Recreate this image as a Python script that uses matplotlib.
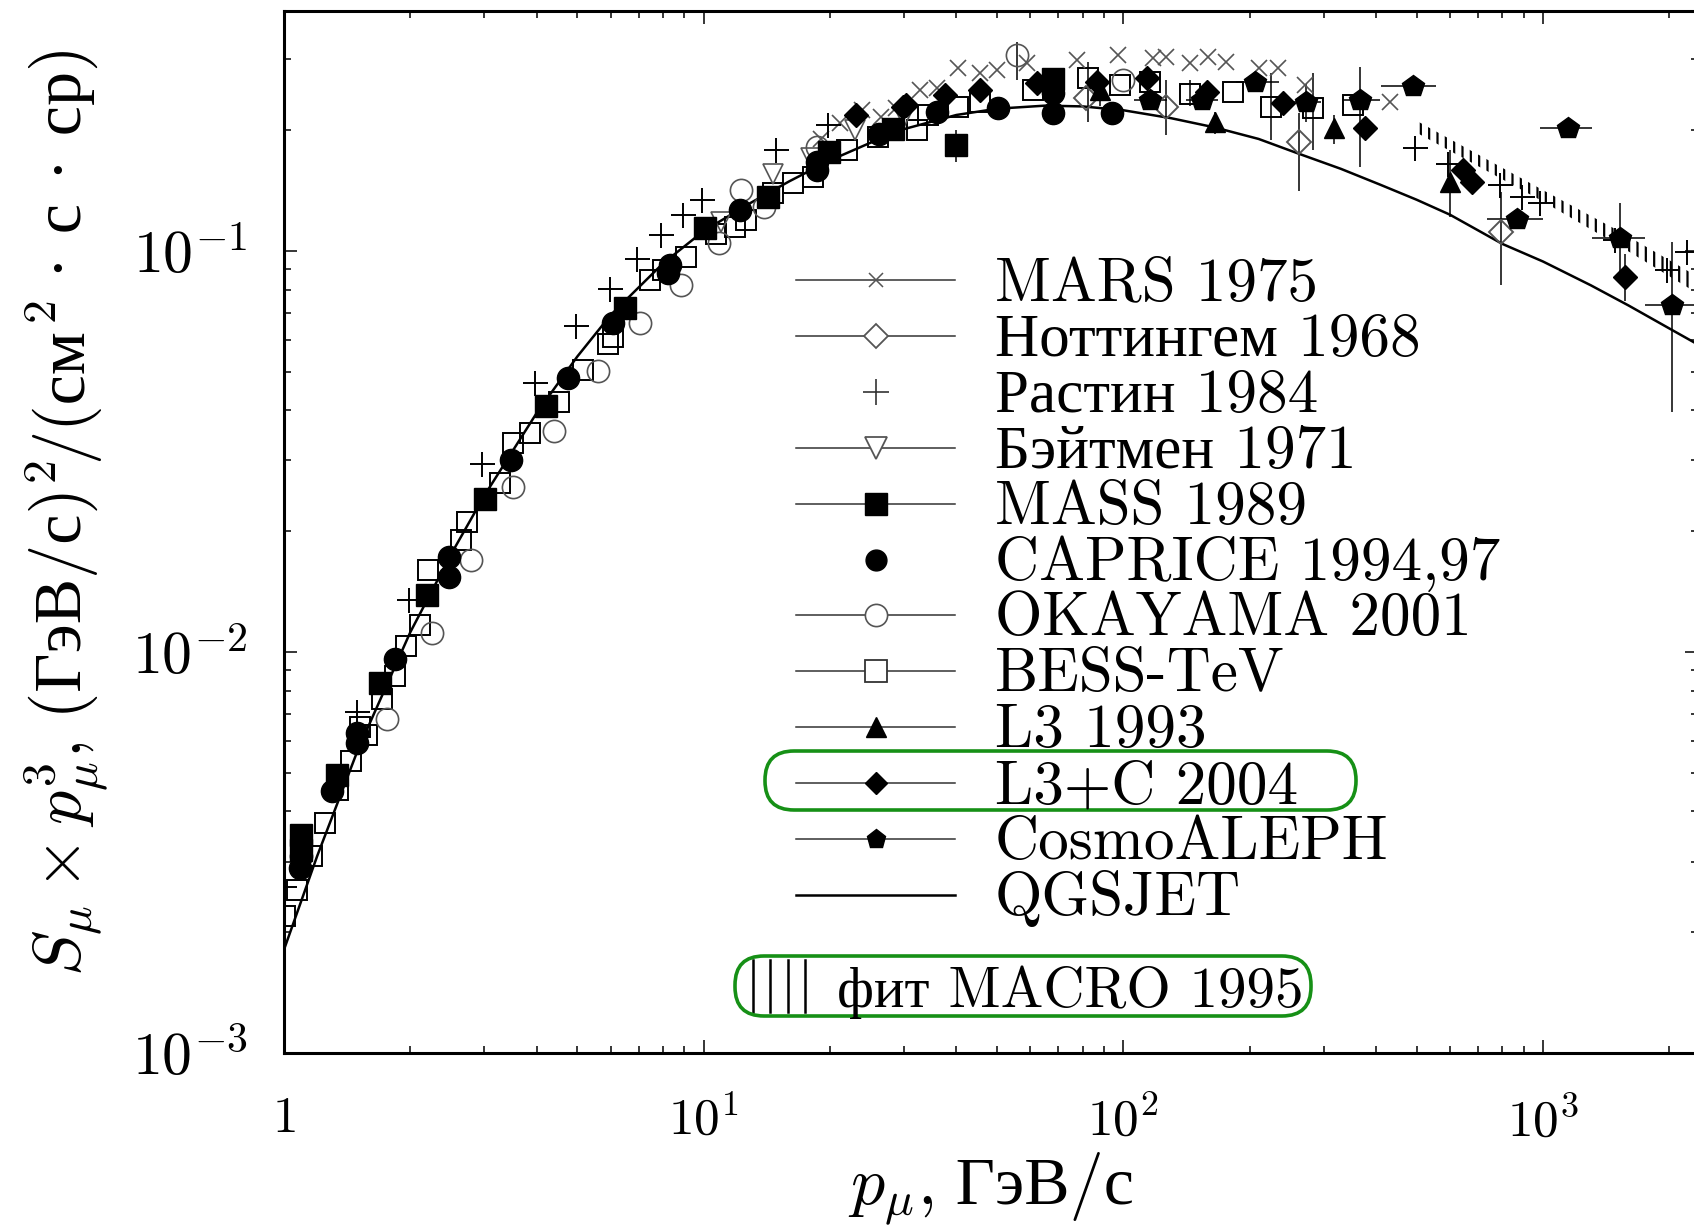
import numpy as np
import matplotlib
matplotlib.use("Agg")
import matplotlib.pyplot as plt
from matplotlib.patches import FancyBboxPatch
from matplotlib.transforms import IdentityTransform
from matplotlib.ticker import FixedLocator, LogLocator, NullFormatter

# ---------------- data: S_mu * p^3 versus muon momentum p (GeV/c) ----------------
mars_p = [19.0, 21.1, 23.9, 26.5, 28.8, 32.7, 36.0, 40.4, 45.5, 49.9, 58.8, 77.4,
          97.2, 117.8, 126.5, 144, 159, 176, 211, 233, 271, 431]
mars_y = [0.190, 0.208, 0.224, 0.215, 0.2265, 0.251, 0.255, 0.285, 0.277, 0.282, 0.293, 0.299,
          0.307, 0.302, 0.304, 0.293, 0.304, 0.296, 0.285, 0.285, 0.259, 0.235]

nott_p = [81.6, 126.5, 262, 794]
nott_y = [0.240, 0.2285, 0.187, 0.1115]
nott_lo = [0.240, 0.194, 0.141, 0.0821]
nott_hi = [0.240, 0.266, 0.220, 0.1403]

rastin_p = [1.0, 1.49, 1.99, 2.97, 3.96, 4.95, 5.97, 6.95, 7.93, 8.93, 9.92, 14.9, 19.8,
            495, 594, 789, 889, 983, 1483, 1969, 2200]
rastin_y = [0.00259, 0.0071, 0.01348, 0.02935, 0.0469, 0.0648, 0.0805, 0.0952, 0.1094, 0.1227,
            0.1337, 0.178, 0.2056, 0.180, 0.165, 0.1458, 0.1363, 0.1312, 0.1063, 0.0895, 0.0994]

bateman_p = [11.0, 14.6, 18.0, 23.0, 30.0]
bateman_y = [0.118, 0.155, 0.170, 0.200, 0.215]

mass_p = [1.10, 1.10, 1.334, 1.692, 2.186, 3.02, 4.22, 6.49, 10.1, 14.25, 19.9, 28.2, 40.0, 68.0]
mass_y = [0.0032, 0.0035, 0.00494, 0.00836, 0.01387, 0.0240, 0.0409, 0.0718, 0.1137, 0.1364,
          0.1764, 0.2017, 0.1834, 0.268]
mass_bar_p = [40.0]
mass_bar_lo = [0.1666]
mass_bar_hi = [0.1998]

caprice_p = [1.09, 1.10, 1.298, 1.493, 1.493, 1.837, 2.476, 2.476, 3.47, 4.75, 6.09, 8.2, 8.3,
             12.2, 18.6, 18.6, 26.2, 35.9, 50.3, 68.0, 68.0, 93.7]
caprice_y = [0.0029, 0.0031, 0.00449, 0.00592, 0.00627, 0.00959, 0.0154, 0.01727, 0.0301, 0.0481,
             0.0659, 0.0878, 0.0921, 0.1263, 0.1589, 0.1667, 0.196, 0.222, 0.2263, 0.220, 0.248, 0.220]

okayama_p = [1.756, 2.247, 2.796, 3.51, 4.41, 5.61, 7.04, 8.83, 10.9, 12.3, 13.95, 18.6, 55.7, 100]
okayama_y = [0.00681, 0.01114, 0.01696, 0.0258, 0.0356, 0.0502, 0.0659, 0.0821, 0.1043, 0.1416,
             0.1287, 0.1815, 0.307, 0.266]
okayama_bar_p = [55.7]
okayama_bar_lo = [0.266]
okayama_bar_hi = [0.332]

bess_p = [1.005, 1.071, 1.163, 1.251, 1.345, 1.448, 1.516, 1.573, 1.708, 1.837, 1.958, 2.107,
          2.206, 2.645, 2.722, 3.27, 3.51, 3.85, 4.53, 5.16, 5.92, 6.09, 7.44, 8.0, 9.1, 10.7,
          11.9, 12.6, 14.6, 16.3, 18.2, 21.9, 26.0, 32.3, 34.3, 40.4, 45.5, 61.0, 82.5, 98.0,
          115.7, 144, 182.6, 225, 283, 353]
bess_y = [0.0022, 0.00255, 0.0031, 0.00374, 0.00452, 0.00534, 0.0065, 0.0062, 0.00762, 0.0087,
          0.01035, 0.0117, 0.0160, 0.0190, 0.0211, 0.0263, 0.0331, 0.0351, 0.0420, 0.0504, 0.0587,
          0.0611, 0.0845, 0.0895, 0.0966, 0.1104, 0.1148, 0.1192, 0.139, 0.1472, 0.1529, 0.178,
          0.192, 0.1998, 0.218, 0.2286, 0.235, 0.2513, 0.2688, 0.2587, 0.2636, 0.2465, 0.249,
          0.2286, 0.2263, 0.2307]
bess_bar_p = [82.5, 144, 225, 283]
bess_bar_lo = [0.210, 0.229, 0.189, 0.178]
bess_bar_hi = [0.296, 0.266, 0.277, 0.277]

l3_p = [88, 165, 317, 600]
l3_y = [0.2513, 0.2097, 0.2018, 0.1486]
l3_lo = [0.230, 0.195, 0.185, 0.1215]
l3_hi = [0.275, 0.222, 0.218, 0.178]

l3c_p = [23.1, 29.9, 30.4, 37.6, 45.5, 62.1, 86.3, 113.6, 157.8, 240, 376, 643, 678, 1567]
l3c_y = [0.2178, 0.2284, 0.2307, 0.2443, 0.2513, 0.2612, 0.2636, 0.2688, 0.249, 0.233, 0.2018,
         0.159, 0.148, 0.0861]
l3c_bar_p = [376, 1567]
l3c_bar_lo = [0.190, 0.075]
l3c_bar_hi = [0.213, 0.098]

cosmo_p = [115.7, 153.6, 205.7, 273, 366, 489, 865, 1148, 1524, 2025]
cosmo_y = [0.2374, 0.2374, 0.2636, 0.235, 0.2374, 0.2572, 0.1197, 0.2018, 0.1074, 0.0732]
cosmo_plo = [106, 141, 186, 252, 331, 410, 735, 985, 1307, 1750]
cosmo_phi = [127, 168, 235, 296, 408, 557, 1000, 1307, 1752, 2400]
cosmo_bar_p = [273, 366, 1524, 2025]
cosmo_bar_lo = [0.210, 0.1617, 0.088, 0.0397]
cosmo_bar_hi = [0.260, 0.2873, 0.1315, 0.1053]

qgs_p = [1.0, 1.2, 1.5, 2.0, 2.5, 3.0, 4.0, 5.0, 6.0, 8.0, 10, 13, 16, 20, 25, 30, 40, 50,
         65, 80, 100, 130, 165, 210, 260, 330, 410, 500, 600, 800, 1000, 1300, 1600, 2000, 2400]
qgs_y = [0.00181, 0.0031, 0.0057, 0.0112, 0.0175, 0.0245, 0.0394, 0.0545, 0.0691, 0.0930,
         0.112, 0.132, 0.149, 0.168, 0.186, 0.201, 0.218, 0.226, 0.230, 0.229, 0.224, 0.214,
         0.203, 0.190, 0.175, 0.160, 0.146, 0.134, 0.123, 0.104, 0.094, 0.082, 0.0730, 0.0640,
         0.0575]

macro_p = [495, 983, 1540, 2300]
macro_lo = [0.198, 0.134, 0.102, 0.079]
macro_hi = [0.212, 0.143, 0.111, 0.087]

legend_labels = ["MARS 1975", "Ноттингем 1968", "Растин 1984", "Бэйтмен 1971", "MASS 1989",
                 "CAPRICE 1994,97", "OKAYAMA 2001", "BESS-TeV", "L3 1993", "L3+C 2004",
                 "CosmoALEPH", "QGSJET"]
macro_label = "фит MACRO 1995"
x_tick_vals = [1, 10, 100, 1000]
x_tick_text = ["$1$", "$10^{1}$", "$10^{2}$", "$10^{3}$"]
y_tick_vals = [1e-3, 1e-2, 1e-1]
y_tick_text = ["$10^{-3}$", "$10^{-2}$", "$10^{-1}$"]

# ---------------- style ----------------
plt.rcParams.update({
    "font.family": ["cmr10", "Liberation Serif"],
    "mathtext.fontset": "cm",
    "axes.unicode_minus": False,
    "axes.formatter.use_mathtext": True,
    "hatch.linewidth": 1.6,
})

W, H = 1694, 1232
fig = plt.figure(figsize=(W / 100, H / 100), dpi=100)
fig.patch.set_facecolor("white")


def fx(x):
    return x / W


def fy(y):
    return 1 - y / H


ax = fig.add_axes([fx(284), fy(1053), (1698 - 284) / W, (1053 - 11) / H])
ax.set_xscale("log")
ax.set_yscale("log")

GREY = "#555555"

# model curve and fit band
ax.plot(qgs_p, qgs_y, color="black", lw=1.8, zorder=2)
ax.fill_between(macro_p, macro_lo, macro_hi, facecolor="none", edgecolor="black",
                hatch="||", linewidth=0, zorder=2)


# error bars
def vbars(p, lo, hi):
    ax.vlines(p, lo, hi, colors="black", lw=1.1, zorder=3)


vbars(nott_p, nott_lo, nott_hi)
vbars(mass_bar_p, mass_bar_lo, mass_bar_hi)
vbars(okayama_bar_p, okayama_bar_lo, okayama_bar_hi)
vbars(bess_bar_p, bess_bar_lo, bess_bar_hi)
vbars(l3_p, l3_lo, l3_hi)
vbars(l3c_bar_p, l3c_bar_lo, l3c_bar_hi)
vbars(cosmo_bar_p, cosmo_bar_lo, cosmo_bar_hi)
ax.hlines(cosmo_y, cosmo_plo, cosmo_phi, colors="black", lw=1.1, zorder=3)

# data points
ax.plot(bess_p, bess_y, ls="none", marker="s", ms=15, mfc="none", mec="black", mew=1.4, zorder=4)
ax.plot(okayama_p, okayama_y, ls="none", marker="o", ms=16, mfc="none", mec=GREY, mew=1.2, zorder=4)
ax.plot(mars_p, mars_y, ls="none", marker="x", ms=12, mew=1.2, color=GREY, zorder=4)
ax.plot(nott_p, nott_y, ls="none", marker="D", ms=12, mfc="none", mec=GREY, mew=1.4, zorder=4)
ax.plot(bateman_p, bateman_y, ls="none", marker="v", ms=14, mfc="none", mec=GREY, mew=1.2, zorder=4)
ax.plot(rastin_p, rastin_y, ls="none", marker="+", ms=18, mew=1.4, color="black", zorder=5)
ax.plot(mass_p, mass_y, ls="none", marker="s", ms=16, color="black", zorder=5)
ax.plot(caprice_p, caprice_y, ls="none", marker="o", ms=16, color="black", zorder=5)
ax.plot(l3_p, l3_y, ls="none", marker="^", ms=15, color="black", zorder=5)
ax.plot(l3c_p, l3c_y, ls="none", marker="D", ms=12, color="black", zorder=5)
ax.plot(cosmo_p, cosmo_y, ls="none", marker="p", ms=16, color="black", zorder=5)

# axes, ticks
ax.set_xlim(1, 2340)
ax.set_ylim(1e-3, 0.396)
ax.xaxis.set_major_locator(FixedLocator(x_tick_vals))
ax.xaxis.set_minor_locator(LogLocator(base=10, subs=np.arange(2, 10)))
ax.xaxis.set_minor_formatter(NullFormatter())
ax.set_xticklabels(x_tick_text)
ax.yaxis.set_major_locator(FixedLocator(y_tick_vals))
ax.yaxis.set_minor_locator(LogLocator(base=10, subs=np.arange(2, 10)))
ax.yaxis.set_minor_formatter(NullFormatter())
ax.set_yticklabels(y_tick_text)
ax.tick_params(which="both", direction="in", top=True, right=True, width=1.1)
ax.tick_params(which="major", length=9.5)
ax.tick_params(which="minor", length=5)
ax.tick_params(axis="x", labelsize=37, pad=31)
ax.tick_params(axis="y", labelsize=43, pad=26)
for s in ax.spines.values():
    s.set_linewidth(2.2)

# legend drawn by hand
legend_styles = [
    dict(marker="x", ms=10, mew=1.1, color=GREY),
    dict(marker="D", ms=12, mfc="white", mec=GREY, mew=1.3),
    dict(marker="+", ms=19, mew=1.2, color="#333333"),
    dict(marker="v", ms=16, mfc="white", mec=GREY, mew=1.3),
    dict(marker="s", ms=16, color="black"),
    dict(marker="o", ms=15, color="black"),
    dict(marker="o", ms=16, mfc="white", mec=GREY, mew=1.2),
    dict(marker="s", ms=16, mfc="white", mec="#333333", mew=1.3),
    dict(marker="^", ms=15, color="black"),
    dict(marker="D", ms=11, color="black"),
    dict(marker="p", ms=14, color="black"),
    None,
]
legend_lines = [True, True, False, True, True, False, True, True, True, True, True, True]
row0, row_step = 280.0, 55.9
for i, (lab, st, has_line) in enumerate(zip(legend_labels, legend_styles, legend_lines)):
    r = row0 + i * row_step
    if has_line:
        ax.plot([fx(796), fx(955)], [fy(r), fy(r)], transform=fig.transFigure,
                color="black" if st is None else "#333333", lw=1.8 if st is None else 1.1,
                clip_on=False, zorder=6)
    if st is not None:
        ax.plot([fx(876)], [fy(r)], transform=fig.transFigure, ls="none", clip_on=False,
                zorder=7, **st)
    fig.text(fx(995), fy(r + 20), lab, fontsize=44, ha="left", va="baseline")

for xl in [753, 770, 788, 805]:
    ax.plot([fx(xl), fx(xl)], [fy(960), fy(1012)], transform=fig.transFigure,
            color="black", lw=1.8, clip_on=False)
fig.text(fx(837), fy(1007), macro_label, fontsize=41, ha="left", va="baseline")

# highlight frames
for (x0, y0, w, h) in [(765, 751, 591, 59), (735, 956, 576, 60)]:
    fig.add_artist(FancyBboxPatch((x0, H - y0 - h), w, h,
                                  boxstyle="round,pad=0,rounding_size=29",
                                  transform=IdentityTransform(), fill=False,
                                  ec="#169016", lw=2.6))


# axis titles built from math and plain pieces placed side by side
def text_run(parts, cx, base, size, vertical=False):
    fig.canvas.draw()
    rnd = fig.canvas.get_renderer()
    widths = []
    for s in parts:
        t = fig.text(0, 0, s, fontsize=size)
        widths.append(t.get_window_extent(rnd).width)
        t.remove()
    total = sum(widths)
    off = 0.0
    for s, w in zip(parts, widths):
        if vertical:
            fig.text(fx(base), fy(cx + total / 2 - off), s, fontsize=size, rotation=90,
                     rotation_mode="anchor", ha="left", va="baseline")
        else:
            fig.text(fx(cx - total / 2 + off), fy(base), s, fontsize=size,
                     ha="left", va="baseline")
        off += w


text_run([r"$p_\mu$,", " ГэВ/с"], 991, 1204, 49)
text_run([r"$S_\mu \times p_\mu^3$,", " (ГэВ/с)", r"$^2$", "/(см", r"$^2$", " · с · ср)"],
         510, 81, 49, vertical=True)

fig.savefig("out.png", dpi=100)
